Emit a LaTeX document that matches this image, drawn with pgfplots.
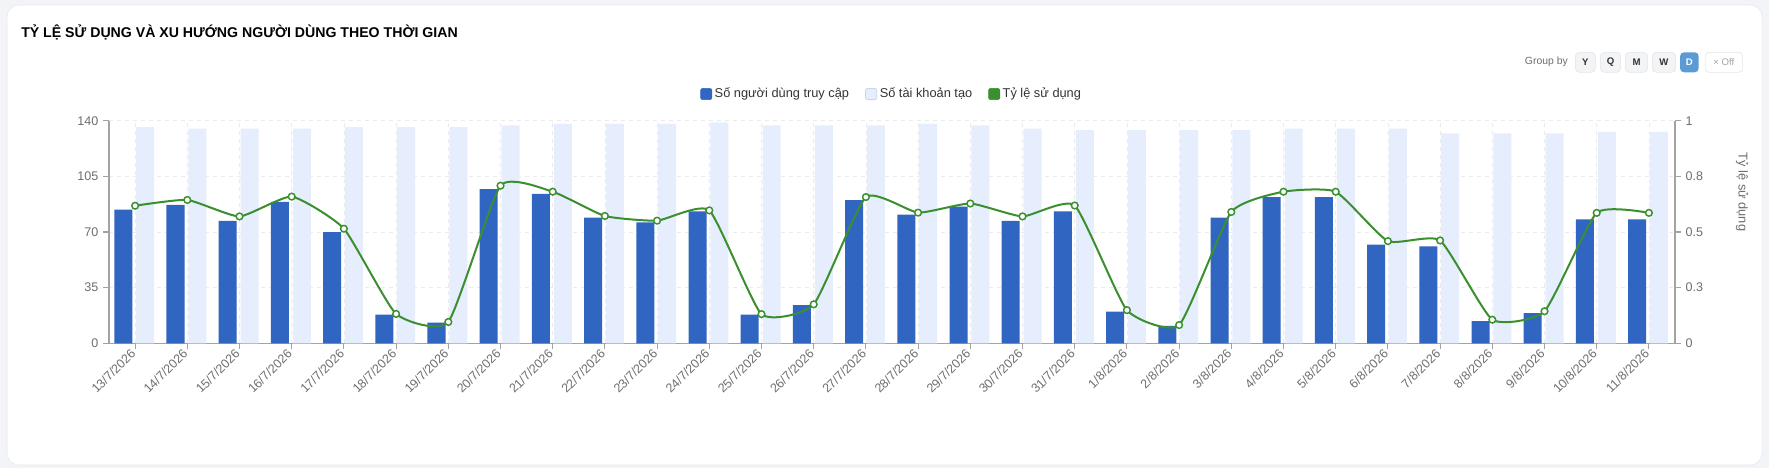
\documentclass[border=0pt]{standalone}
\usepackage{pgfplots}
\pgfplotsset{compat=1.18}
\usepackage{pgfplotstable}
\usepackage{fontspec}
\setmainfont{Liberation Sans}
\definecolor{barblue}{HTML}{3066C2}
\definecolor{barlight}{HTML}{E6EDFD}
\definecolor{barlightline}{HTML}{C9D5F0}
\definecolor{linegreen}{HTML}{3A8F2E}
\definecolor{axgray}{HTML}{A3A3A3}
\definecolor{labgray}{HTML}{6E6E6E}
\definecolor{gridgray}{HTML}{EBEBEB}
\definecolor{pagebg}{HTML}{F3F4F8}
\definecolor{cardline}{HTML}{E6E8EE}
\definecolor{btnbg}{HTML}{F3F4F6}
\definecolor{btnline}{HTML}{E2E4E8}
\definecolor{btnblue}{HTML}{5B9BD5}
\definecolor{darktext}{HTML}{333333}

\pgfplotstableread{
idx users accounts rate
0 84 136 0.618
1 87 135 0.644
2 77 135 0.570
3 89 135 0.659
4 70 136 0.515
5 18 136 0.132
6 13 136 0.096
7 97 137 0.708
8 94 138 0.681
9 79 138 0.572
10 76 138 0.551
11 83 139 0.597
12 18 137 0.131
13 24 137 0.175
14 90 137 0.657
15 81 138 0.587
16 86 137 0.628
17 77 135 0.570
18 83 134 0.619
19 20 134 0.149
20 11 134 0.082
21 79 134 0.590
22 92 135 0.681
23 92 135 0.681
24 62 135 0.459
25 61 132 0.462
26 14 132 0.106
27 19 132 0.144
28 78 133 0.586
29 78 133 0.586
}\datatable

\begin{document}
\begin{tikzpicture}[x=0.75pt,y=0.75pt]
\fill[pagebg] (0,0) rectangle (1769,468);
\filldraw[fill=white, draw=cardline, rounded corners=9pt] (7,3) rectangle (1762,463);
\node[anchor=west, inner sep=0pt, font=\bfseries\fontsize{10.6pt}{12pt}\selectfont, text=black] at (21,436) {TỶ LỆ SỬ DỤNG VÀ XU HƯỚNG NGƯỜI DÙNG THEO THỜI GIAN};

% group by controls
\node[anchor=east, inner sep=0pt, font=\fontsize{7.8pt}{9pt}\selectfont, text=labgray] at (1568,406) {Group by};
\begin{scope}[font=\bfseries\fontsize{7.2pt}{9pt}\selectfont, text=darktext]
\filldraw[fill=btnbg, draw=btnline, rounded corners=3pt] (1575.3,395.7) rectangle (1595.3,415.7);
\node at (1585.3,405.7) {Y};
\filldraw[fill=btnbg, draw=btnline, rounded corners=3pt] (1600.3,395.7) rectangle (1620.7,415.7);
\node at (1610.5,405.7) {Q};
\filldraw[fill=btnbg, draw=btnline, rounded corners=3pt] (1625.3,395.7) rectangle (1647.7,415.7);
\node at (1636.5,405.7) {M};
\filldraw[fill=btnbg, draw=btnline, rounded corners=3pt] (1652.3,395.7) rectangle (1675.7,415.7);
\node at (1664,405.7) {W};
\fill[btnblue, rounded corners=3pt] (1680,395.7) rectangle (1698.7,415.7);
\node[text=white] at (1689.35,405.7) {D};
\filldraw[fill=white, draw=btnline, rounded corners=3pt] (1705,395.7) rectangle (1742.7,415.7);
\node[text=axgray, font=\fontsize{7.2pt}{9pt}\selectfont] at (1723.85,405.7) {× Off};
\end{scope}

\begin{axis}[
  at={(81.75pt,93.525pt)}, anchor=south west,
  width=1174.5pt, height=166.95pt, scale only axis,
  xmin=-0.5, xmax=29.5, ymin=0, ymax=140,
  ytick={0,35,70,105,140},
  xtick={0,...,29},
  xticklabels={13/7/2026,14/7/2026,15/7/2026,16/7/2026,17/7/2026,18/7/2026,19/7/2026,20/7/2026,21/7/2026,22/7/2026,23/7/2026,24/7/2026,25/7/2026,26/7/2026,27/7/2026,28/7/2026,29/7/2026,30/7/2026,31/7/2026,1/8/2026,2/8/2026,3/8/2026,4/8/2026,5/8/2026,6/8/2026,7/8/2026,8/8/2026,9/8/2026,10/8/2026,11/8/2026},
  axis x line*=bottom, axis y line*=left,
  axis line style={-, axgray, line width=1.1pt},
  tick style={axgray, line width=0.8pt},
  tick align=outside, major tick length=4.5pt,
  grid=major,
  major grid style={gridgray, dashed, line width=0.6pt},
  /pgf/number format/assume math mode=true,
  tick label style={font=\fontsize{9.4pt}{11pt}\selectfont, text=labgray},
  xticklabel style={rotate=45, anchor=east, inner sep=2pt},
  legend style={draw=none, fill=none, at={(0.5,1)}, anchor=center, yshift=20pt,
    font=\fontsize{9.6pt}{11pt}\selectfont, text=darktext,
    /tikz/every even column/.append style={column sep=10pt},
    legend columns=3},
  legend cell align=left,
]
\addlegendimage{legend image code/.code={\fill[barblue, rounded corners=1.5pt] (0pt,-4.2pt) rectangle (8.4pt,4.2pt);}}
\addlegendimage{legend image code/.code={\filldraw[fill=barlight, draw=barlightline, line width=0.6pt, rounded corners=1.5pt] (0pt,-4.2pt) rectangle (8.4pt,4.2pt);}}
\addlegendimage{legend image code/.code={\fill[linegreen, rounded corners=1.5pt] (0pt,-4.2pt) rectangle (8.4pt,4.2pt);}}
\addplot[ybar, bar width=0.345, bar shift=-0.226, fill=barblue, draw=none] table[x=idx,y=users]{\datatable};
\addplot[ybar, bar width=0.345, bar shift=0.193, fill=barlight, draw=none] table[x=idx,y=accounts]{\datatable};
\legend{Số người dùng truy cập, Số tài khoản tạo, Tỷ lệ sử dụng}
\end{axis}

\begin{axis}[
  at={(81.75pt,93.525pt)}, anchor=south west,
  width=1174.5pt, height=166.95pt, scale only axis,
  xmin=-0.5, xmax=29.5, ymin=0, ymax=1,
  axis x line=none, axis y line*=right,
  axis line style={-, axgray, line width=1.1pt},
  tick style={axgray, line width=0.8pt},
  tick align=outside, major tick length=4.5pt,
  ytick={0,0.25,0.5,0.75,1},
  yticklabels={0,0.3,0.5,0.8,1},
  tick label style={font=\fontsize{9.4pt}{11pt}\selectfont, text=labgray},
  clip=false,
]
\addplot[linegreen, line width=1.5pt, smooth, tension=0.3, mark=*, mark size=2.5pt,
  mark options={fill=white, draw=linegreen, line width=1.1pt}] table[x=idx,y=rate]{\datatable};
\end{axis}

\node[rotate=-90, anchor=center, font=\fontsize{9.6pt}{11pt}\selectfont, text=labgray] at (1742,276) {Tỷ lệ sử dụng};
\end{tikzpicture}
\end{document}
